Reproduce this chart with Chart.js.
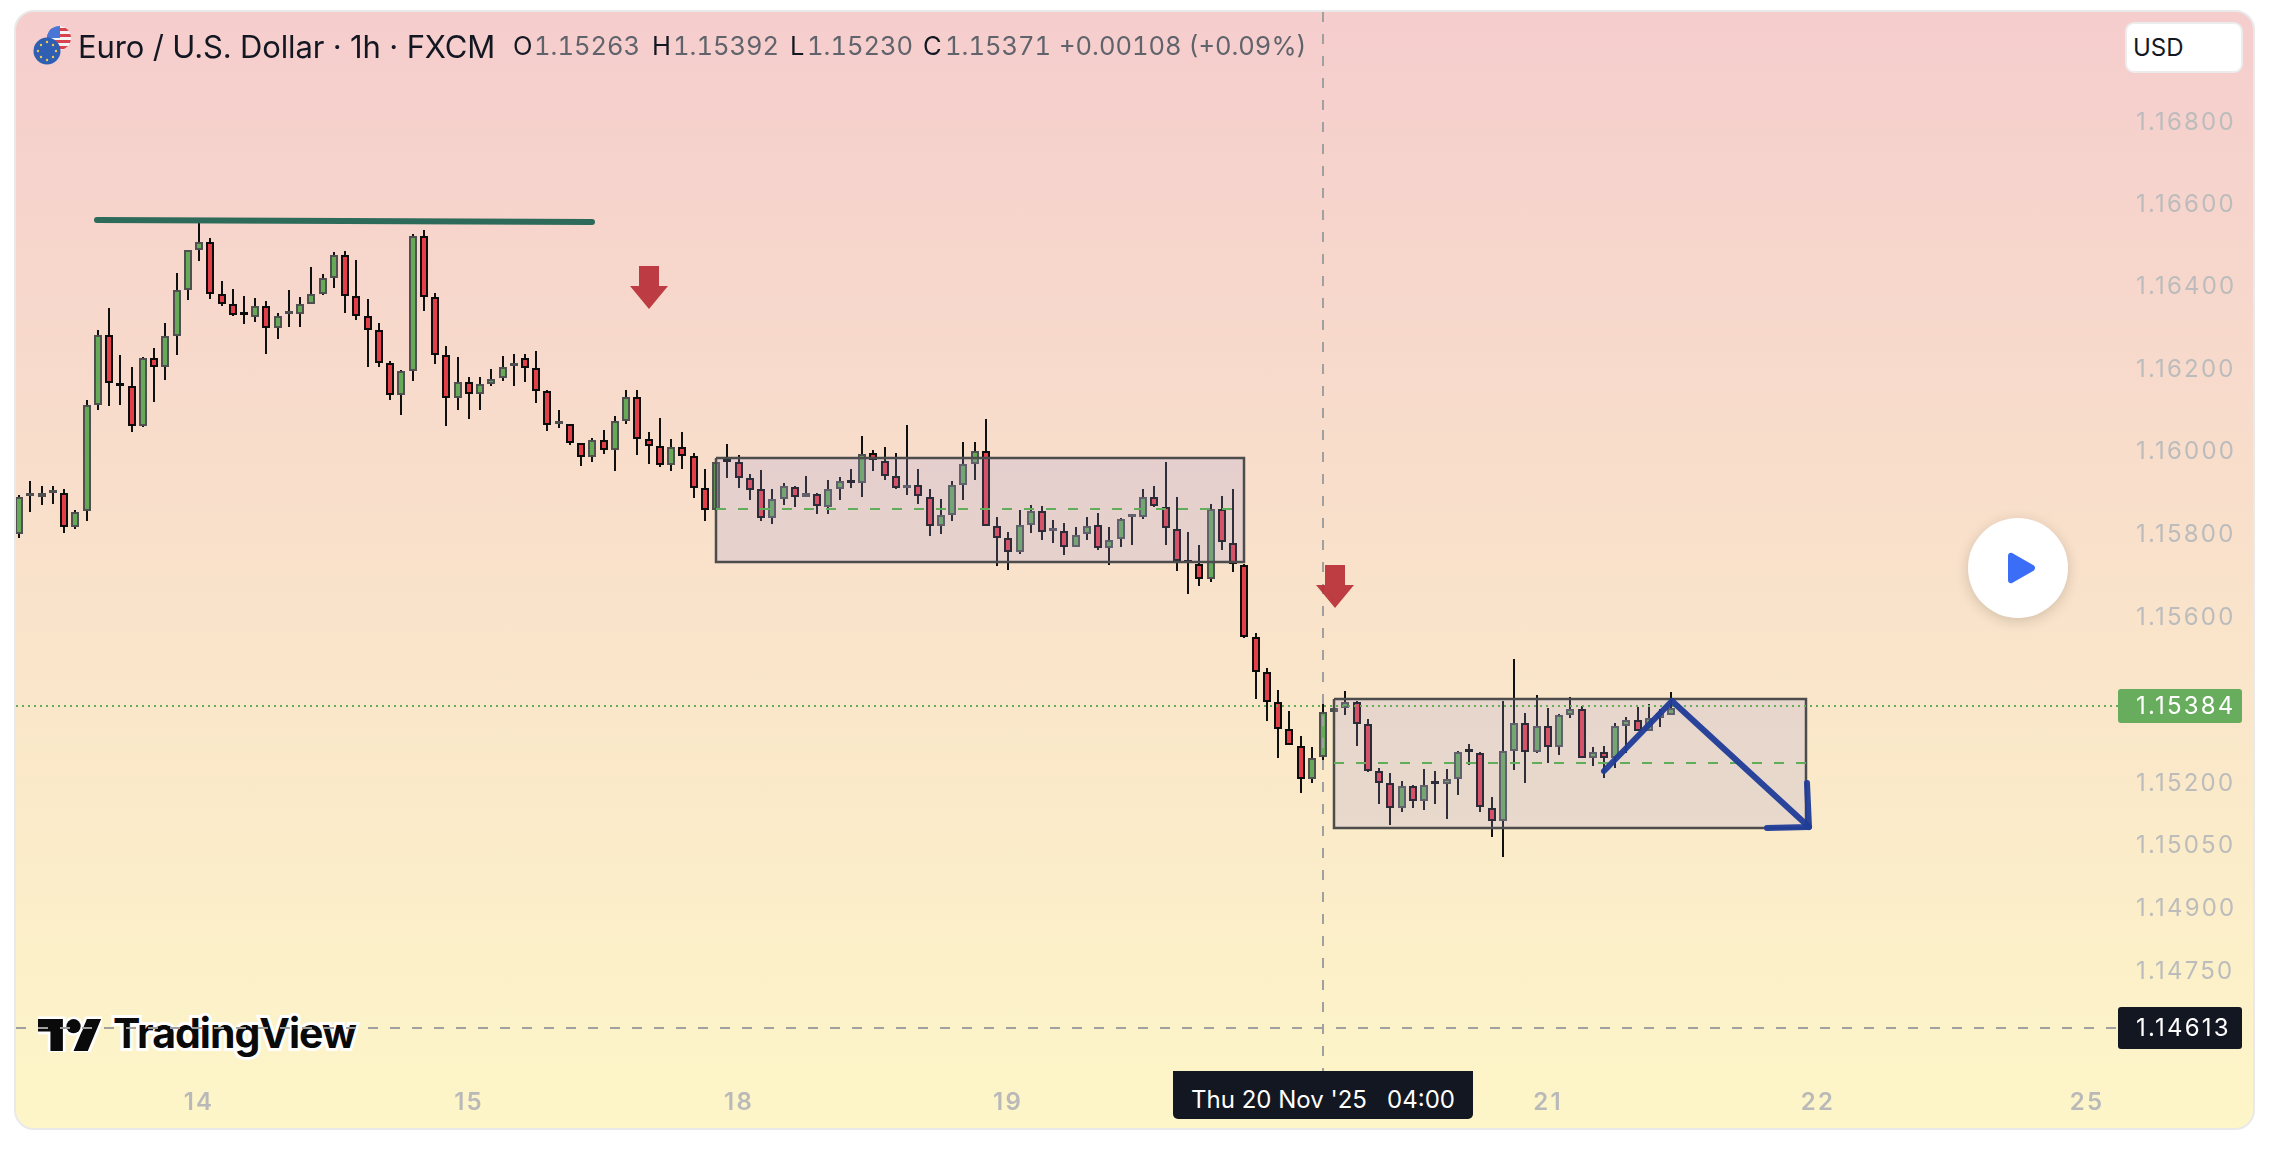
<!DOCTYPE html>
<html>
<head>
<meta charset="utf-8">
<title>EUR/USD</title>
<script src="https://cdn.jsdelivr.net/npm/chart.js@4/dist/chart.umd.js"></script>
<style>
  html, body { margin: 0; padding: 0; background: #fff; width: 2272px; height: 1152px; overflow: hidden; }
  body { position: relative; font-family: Inter, sans-serif; color: #131722; }
  .card { position: absolute; left: 14px; top: 10px; width: 2237px; height: 1116px; border: 2px solid #e9e9e9; border-radius: 20px;
    background: linear-gradient(180deg, #f5cdcd 0%, #fdf6c8 100%); }
  #chart { position: absolute; left: 0; top: 0; z-index: 2; }
  .t { position: absolute; white-space: pre; z-index: 3; line-height: 1; }
  .head { top: 33px; font-size: 25.5px; color: #60636c; font-variant-numeric: tabular-nums; }
  .head.k { color: #131722; }
  #title { left: 78px; top: 31px; font-size: 31px; color: #131722; letter-spacing: -0.15px; }
  #flag { position: absolute; left: 32px; top: 24px; z-index: 3; }
  #usd { position: absolute; left: 2125px; top: 22px; width: 114px; height: 47px; background: #fff; border: 2px solid #ececec; border-radius: 9px; z-index: 3;
    font-size: 24px; line-height: 47px; text-indent: 6px; }
  #timetag { position: absolute; left: 1173px; top: 1071px; width: 300px; height: 48px; background: #131722; color: #fff; border-radius: 0 0 5px 5px; z-index: 3;
    font-size: 24px; line-height: 58px; text-align: center; white-space: pre; }
  #play { position: absolute; left: 1968px; top: 518px; width: 100px; height: 100px; border-radius: 50%; background: #fff; z-index: 3;
    box-shadow: 0 3px 14px rgba(0,0,0,.16); }
  #logo { position: absolute; left: 38px; top: 1012px; z-index: 1; }
  #logotext { position: absolute; left: 113px; top: 1013px; z-index: 1; font-size: 41px; font-weight: 700; line-height: 1; letter-spacing: -1px; color: #0a0a0a;
    -webkit-text-stroke: 6px #fff; paint-order: stroke fill; white-space: pre; }
</style>
</head>
<body>
<div class="card"></div>

<svg id="logo" width="64" height="40" viewBox="0 0 36 22.5">
  <g fill="#0a0a0a" stroke="#fff" stroke-width="3" paint-order="stroke">
    <path d="M14 22H7V11H0V4h14v18zM28 22h-8l7.5-18h8L28 22z"/>
    <circle cx="20" cy="8" r="4"/>
  </g>
</svg>
<div id="logotext">TradingView</div>

<canvas id="chart" width="2272" height="1152"></canvas>

<svg id="flag" width="40" height="42" viewBox="0 0 40 42">
  <defs><clipPath id="us"><circle cx="27" cy="14" r="12"/></clipPath></defs>
  <g clip-path="url(#us)">
    <rect x="14" y="2" width="26" height="24" fill="#f4f4f4"/>
    <rect x="14" y="4" width="26" height="3" fill="#d9434e"/>
    <rect x="14" y="10" width="26" height="3" fill="#d9434e"/>
    <rect x="14" y="16" width="26" height="3" fill="#d9434e"/>
    <rect x="14" y="22" width="26" height="3" fill="#d9434e"/>
    <rect x="14" y="2" width="14" height="12" fill="#4a76d6"/>
  </g>
  <circle cx="15" cy="27" r="13.5" fill="#2f5fb3"/>
  <g fill="#f2c94c">
    <circle cx="15" cy="18" r="1.2"/><circle cx="15" cy="36" r="1.2"/>
    <circle cx="6" cy="27" r="1.2"/><circle cx="24" cy="27" r="1.2"/>
    <circle cx="9" cy="21" r="1.2"/><circle cx="21" cy="21" r="1.2"/>
    <circle cx="9" cy="33" r="1.2"/><circle cx="21" cy="33" r="1.2"/>
  </g>
</svg>

<div class="t" id="title">Euro / U.S. Dollar · 1h · FXCM</div>
<div class="t head k" style="left:513px">O</div><div class="t head" style="left:534px">1.15263</div>
<div class="t head k" style="left:652px">H</div><div class="t head" style="left:673px">1.15392</div>
<div class="t head k" style="left:790px">L</div><div class="t head" style="left:807px">1.15230</div>
<div class="t head k" style="left:923px">C</div><div class="t head" style="left:945px">1.15371</div>
<div class="t head" style="left:1059px">+0.00108 (+0.09%)</div>

<div id="usd">USD</div>
<div id="timetag">Thu 20 Nov '25   04:00</div>
<div id="play">
  <svg width="100" height="100" viewBox="0 0 100 100"><path d="M41 38 L41 62 Q41 65 44 64 L65 52 Q67 50 65 48 L44 36 Q41 35 41 38Z" fill="#3b6ef6" stroke="#3b6ef6" stroke-width="2" stroke-linejoin="round"/></svg>
</div>

<script>
// hourly candles
const opens = [1.15801,1.15892,1.15890,1.15898,1.15898,1.15816,1.15855,1.16112,1.16281,1.16165,1.16157,1.16061,1.16225,1.16204,1.16279,1.16391,1.16488,1.16508,1.16380,1.16356,
  1.16333,1.16326,1.16351,1.16298,1.16333,1.16332,1.16357,1.16382,1.16420,1.16475,1.16375,1.16327,1.16293,1.16214,1.16136,1.16194,1.16523,1.16374,1.16233,1.16129,
  1.16167,1.16138,1.16163,1.16177,1.16207,1.16225,1.16201,1.16146,1.16066,1.16065,1.16019,1.15986,1.16026,1.16003,1.16073,1.16130,1.16029,1.16012,1.15966,1.16009,
  1.15988,1.15910,1.15857,1.15975,1.15973,1.15935,1.15908,1.15838,1.15884,1.15914,1.15889,1.15897,1.15866,1.15908,1.15928,1.15923,1.15995,1.15977,1.15941,1.15910,
  1.15918,1.15890,1.15819,1.15845,1.15918,1.15968,1.16000,1.15819,1.15790,1.15756,1.15821,1.15855,1.15806,1.15806,1.15768,1.15799,1.15821,1.15765,1.15787,1.15840,
  1.15840,1.15888,1.15866,1.15813,1.15731,1.15728,1.15690,1.15861,1.15779,1.15726,1.15552,1.15466,1.15394,1.15329,1.15290,1.15209,1.15263,1.15370,1.15380,1.15394,
  1.15342,1.15228,1.15199,1.15139,1.15192,1.15156,1.15200,1.15197,1.15209,1.15277,1.15272,1.15141,1.15108,1.15277,1.15345,1.15274,1.15336,1.15286,1.15363,1.15377,
  1.15259,1.15274,1.15261,1.15336,1.15351,1.15325,1.15356,1.15363];
const highs = [1.15894,1.15928,1.15916,1.15916,1.15909,1.15858,1.16125,1.16294,1.16348,1.16234,1.16205,1.16229,1.16251,1.16311,1.16433,1.16488,1.16561,1.16517,1.16413,1.16394,
  1.16377,1.16372,1.16365,1.16336,1.16391,1.16374,1.16447,1.16430,1.16483,1.16486,1.16464,1.16370,1.16311,1.16219,1.16197,1.16527,1.16537,1.16384,1.16256,1.16227,
  1.16180,1.16180,1.16200,1.16231,1.16236,1.16236,1.16243,1.16149,1.16100,1.16066,1.16020,1.16032,1.16052,1.16084,1.16149,1.16149,1.16047,1.16081,1.16030,1.16047,
  1.15996,1.15957,1.15975,1.16018,1.15991,1.15945,1.15955,1.15909,1.15923,1.15915,1.15940,1.15898,1.15931,1.15938,1.15957,1.16037,1.16003,1.16010,1.15996,1.16064,
  1.15957,1.15909,1.15885,1.15928,1.16022,1.16022,1.16078,1.15841,1.15805,1.15858,1.15870,1.15868,1.15834,1.15827,1.15817,1.15841,1.15851,1.15817,1.15839,1.15843,
  1.15909,1.15916,1.15974,1.15889,1.15805,1.15773,1.15873,1.15892,1.15909,1.15727,1.15561,1.15477,1.15424,1.15374,1.15313,1.15287,1.15392,1.15381,1.15422,1.15396,
  1.15354,1.15236,1.15224,1.15205,1.15196,1.15234,1.15229,1.15234,1.15277,1.15294,1.15275,1.15167,1.15398,1.15499,1.15369,1.15412,1.15381,1.15366,1.15407,1.15385,
  1.15287,1.15289,1.15345,1.15359,1.15383,1.15390,1.15378,1.15419];
const lows = [1.15789,1.15854,1.15869,1.15873,1.15803,1.15813,1.15830,1.16100,1.16109,1.16113,1.16046,1.16058,1.16118,1.16172,1.16232,1.16366,1.16460,1.16368,1.16353,1.16327,
  1.16307,1.16312,1.16235,1.16271,1.16300,1.16300,1.16357,1.16379,1.16395,1.16334,1.16317,1.16205,1.16203,1.16125,1.16088,1.16169,1.16339,1.16210,1.16062,1.16099,
  1.16079,1.16099,1.16159,1.16169,1.16159,1.16167,1.16116,1.16050,1.16055,1.16016,1.15963,1.15975,1.15992,1.15951,1.16067,1.15990,1.15970,1.15961,1.15951,1.15958,
  1.15886,1.15830,1.15855,1.15936,1.15912,1.15881,1.15830,1.15825,1.15871,1.15864,1.15889,1.15849,1.15847,1.15881,1.15912,1.15888,1.15953,1.15931,1.15909,1.15895,
  1.15873,1.15796,1.15801,1.15832,1.15883,1.15931,1.15819,1.15723,1.15714,1.15752,1.15803,1.15786,1.15777,1.15750,1.15768,1.15786,1.15760,1.15726,1.15769,1.15774,
  1.15835,1.15864,1.15774,1.15711,1.15656,1.15675,1.15685,1.15760,1.15709,1.15550,1.15403,1.15348,1.15261,1.15291,1.15177,1.15201,1.15254,1.15369,1.15364,1.15288,
  1.15226,1.15150,1.15099,1.15131,1.15140,1.15135,1.15150,1.15114,1.15171,1.15242,1.15131,1.15071,1.15021,1.15230,1.15199,1.15273,1.15249,1.15268,1.15355,1.15259,
  1.15240,1.15213,1.15235,1.15272,1.15324,1.15324,1.15335,1.15363];
const closes = [1.15890,1.15894,1.15898,1.15900,1.15816,1.15854,1.16111,1.16281,1.16165,1.16157,1.16061,1.16225,1.16204,1.16278,1.16390,1.16487,1.16508,1.16381,1.16357,1.16330,
  1.16331,1.16351,1.16299,1.16327,1.16335,1.16356,1.16382,1.16419,1.16475,1.16376,1.16327,1.16294,1.16214,1.16136,1.16194,1.16523,1.16374,1.16233,1.16129,1.16167,
  1.16138,1.16162,1.16176,1.16203,1.16209,1.16201,1.16146,1.16063,1.16068,1.16020,1.15986,1.16026,1.16003,1.16072,1.16130,1.16029,1.16012,1.15966,1.16009,1.15988,
  1.15911,1.15857,1.15973,1.15973,1.15935,1.15907,1.15838,1.15884,1.15915,1.15889,1.15898,1.15867,1.15908,1.15927,1.15923,1.15994,1.15978,1.15941,1.15910,1.15918,
  1.15891,1.15819,1.15845,1.15918,1.15968,1.16000,1.15819,1.15790,1.15756,1.15821,1.15855,1.15804,1.15808,1.15768,1.15798,1.15820,1.15765,1.15786,1.15835,1.15842,
  1.15888,1.15867,1.15814,1.15734,1.15729,1.15690,1.15861,1.15780,1.15727,1.15552,1.15467,1.15394,1.15329,1.15291,1.15209,1.15261,1.15371,1.15380,1.15394,1.15342,
  1.15228,1.15200,1.15139,1.15192,1.15156,1.15196,1.15198,1.15209,1.15274,1.15275,1.15142,1.15108,1.15277,1.15345,1.15275,1.15337,1.15286,1.15363,1.15377,1.15260,
  1.15274,1.15261,1.15337,1.15351,1.15325,1.15356,1.15368,1.15381];

const dayTicks = [16, 40, 64, 88, 136, 160, 184];
const dayLabels = ['14', '15', '18', '19', '21', '22', '25'];
const priceTicks = [1.168, 1.166, 1.164, 1.162, 1.16, 1.158, 1.156, 1.152, 1.1505, 1.149, 1.1475];

const lastPrice = 1.15384;
const hoverPrice = 1.14613;
const hoverIndex = 116;

// drawings on the chart, in candle index / price
const resistanceX = [6.95, 51.0];
const resistanceY = [1.16561, 1.16555];
const box1X = [62, 109];
const box1Y = [1.15984, 1.15732];
const box1Mid = 1.15859;
const box2X = [117, 159];
const box2Y = [1.15402, 1.15092];
const box2Mid = 1.15249;
const zigzagX = [141, 147.05, 159.27];
const zigzagY = [1.15228, 1.15398, 1.15094];
const zigzagHeadX = [159.06, 159.27, 155.47];
const zigzagHeadY = [1.15200, 1.15094, 1.15091];
const arrowX = [56.04, 117.07];
const arrowY = [1.16344, 1.15622];

const xMin = -0.285, xMax = 186.73;
const yMin = 1.145075, yMax = 1.170676;

const GREEN = '#66aa57', RED = '#e33f49';
const isUp = i => closes[i] >= opens[i];

const toPts = (xs, ys) => xs.map((x, i) => ({ x, y: ys[i] }));
const rectPts = (xs, ys) => [
  { x: xs[0], y: ys[0] }, { x: xs[1], y: ys[0] }, { x: xs[1], y: ys[1] }, { x: xs[0], y: ys[1] }, { x: xs[0], y: ys[0] },
];
const lineDs = (data, color, width, order, extra) => Object.assign({
  type: 'line', data, borderColor: color, borderWidth: width, order, pointRadius: 0, pointHoverRadius: 0, fill: false, tension: 0,
}, extra);
const boxDs = (xs, ys, order) => lineDs(rectPts(xs, ys), '#4c4c4c', 2.5, order, { fill: 'shape', backgroundColor: 'rgba(165,155,215,0.22)' });

const datasets = [
  { type: 'bar', data: opens.map((_, i) => ({ x: i, y: [lows[i], highs[i]] })), backgroundColor: '#101010', borderWidth: 0, barThickness: 2, grouped: false, order: 20, inflateAmount: 0 },
  { type: 'bar', data: opens.map((o, i) => ({ x: i, y: [o, closes[i]] })), barThickness: 8, grouped: false, order: 19, minBarLength: 3,
    backgroundColor: c => isUp(c.dataIndex) ? GREEN : RED,
    borderColor: c => isUp(c.dataIndex) ? '#505050' : '#0c0c0c',
    borderWidth: 2, borderSkipped: false, inflateAmount: 0 },
  boxDs(box1X, box1Y, 12),
  boxDs(box2X, box2Y, 11),
  lineDs(toPts(box1X, [box1Mid, box1Mid]), '#62ad5a', 2, 10, { borderDash: [10, 12] }),
  lineDs(toPts(box2X, [box2Mid, box2Mid]), '#62ad5a', 2, 9, { borderDash: [10, 12] }),
  lineDs(toPts(resistanceX, resistanceY), '#2d6a5a', 6, 8, { borderCapStyle: 'round' }),
  lineDs(toPts([xMin, xMax], [lastPrice, lastPrice]), '#62ad5a', 2, 7, { borderDash: [2, 4] }),
  lineDs(toPts([xMin, xMax], [hoverPrice, hoverPrice]), '#a0a0a0', 2, 6, { borderDash: [10, 12] }),
  lineDs(toPts([hoverIndex, hoverIndex], [yMax, yMin]), '#a0a0a0', 2, 5, { borderDash: [10, 12] }),
  lineDs(toPts(zigzagX, zigzagY), 'rgba(32,60,152,0.95)', 6, 4, { borderCapStyle: 'round', borderJoinStyle: 'round' }),
  lineDs(toPts(zigzagHeadX, zigzagHeadY), 'rgba(32,60,152,0.95)', 6, 3, { borderCapStyle: 'round', borderJoinStyle: 'round' }),
];

// price tags sit under the tick text, red arrows on top of everything
const overlays = {
  id: 'overlays',
  beforeDraw(chart) {
    const { ctx, scales: { y } } = chart;
    ctx.letterSpacing = '2.2px';
    const tag = (v, half, color) => {
      ctx.fillStyle = color;
      ctx.beginPath();
      ctx.roundRect(2118, y.getPixelForValue(v) - half, 124, half * 2, 3);
      ctx.fill();
    };
    tag(lastPrice, 17, '#68ad5d');
    tag(hoverPrice, 21, '#131722');
  },
  afterDatasetsDraw(chart) {
    const { ctx, scales: { x, y } } = chart;
    ctx.save();
    ctx.fillStyle = 'rgba(184,48,56,0.93)';
    arrowX.forEach((ax, i) => {
      const px = x.getPixelForValue(ax), py = y.getPixelForValue(arrowY[i]);
      ctx.beginPath();
      ctx.moveTo(px, py);
      ctx.lineTo(px - 19, py - 23);
      ctx.lineTo(px - 10, py - 23);
      ctx.lineTo(px - 10, py - 43);
      ctx.lineTo(px + 10, py - 43);
      ctx.lineTo(px + 10, py - 23);
      ctx.lineTo(px + 19, py - 23);
      ctx.closePath();
      ctx.fill();
    });
    ctx.restore();
  },
};

new Chart(document.getElementById('chart'), {
  type: 'bar',
  data: { datasets },
  plugins: [overlays],
  options: {
    responsive: false,
    animation: false,
    events: [],
    layout: { padding: { left: 16, top: 12, bottom: 24, right: 0 } },
    plugins: { legend: { display: false }, tooltip: { enabled: false } },
    scales: {
      x: {
        type: 'linear', min: xMin, max: xMax, offset: false, alignToPixels: true,
        grid: { display: false, offset: false }, border: { display: false },
        afterBuildTicks: s => { s.ticks = dayTicks.map(value => ({ value })); },
        afterFit: s => { s.height = 56; s.paddingLeft = 0; s.paddingRight = 0; },
        ticks: {
          autoSkip: false, maxRotation: 0, padding: 8, color: '#b9b9b9',
          font: { family: 'Inter', size: 24, weight: '600' },
          callback: v => dayLabels[dayTicks.indexOf(v)],
        },
      },
      y: {
        type: 'logarithmic', position: 'right', min: yMin, max: yMax, bounds: 'data', beginAtZero: false, alignToPixels: true,
        grid: { display: false }, border: { display: false },
        afterBuildTicks: s => { s.ticks = [...priceTicks, lastPrice, hoverPrice].map(value => ({ value })); },
        afterFit: s => { s.width = 154; s.paddingTop = 0; s.paddingBottom = 0; },
        ticks: {
          autoSkip: false, padding: 10, labelOffset: 1, font: { family: 'Inter', size: 24 },
          color: c => (c.tick.value === lastPrice || c.tick.value === hoverPrice) ? '#ffffff' : '#bcbcbc',
          callback: v => v.toFixed(5),
        },
      },
    },
  },
});
</script>
</body>
</html>
